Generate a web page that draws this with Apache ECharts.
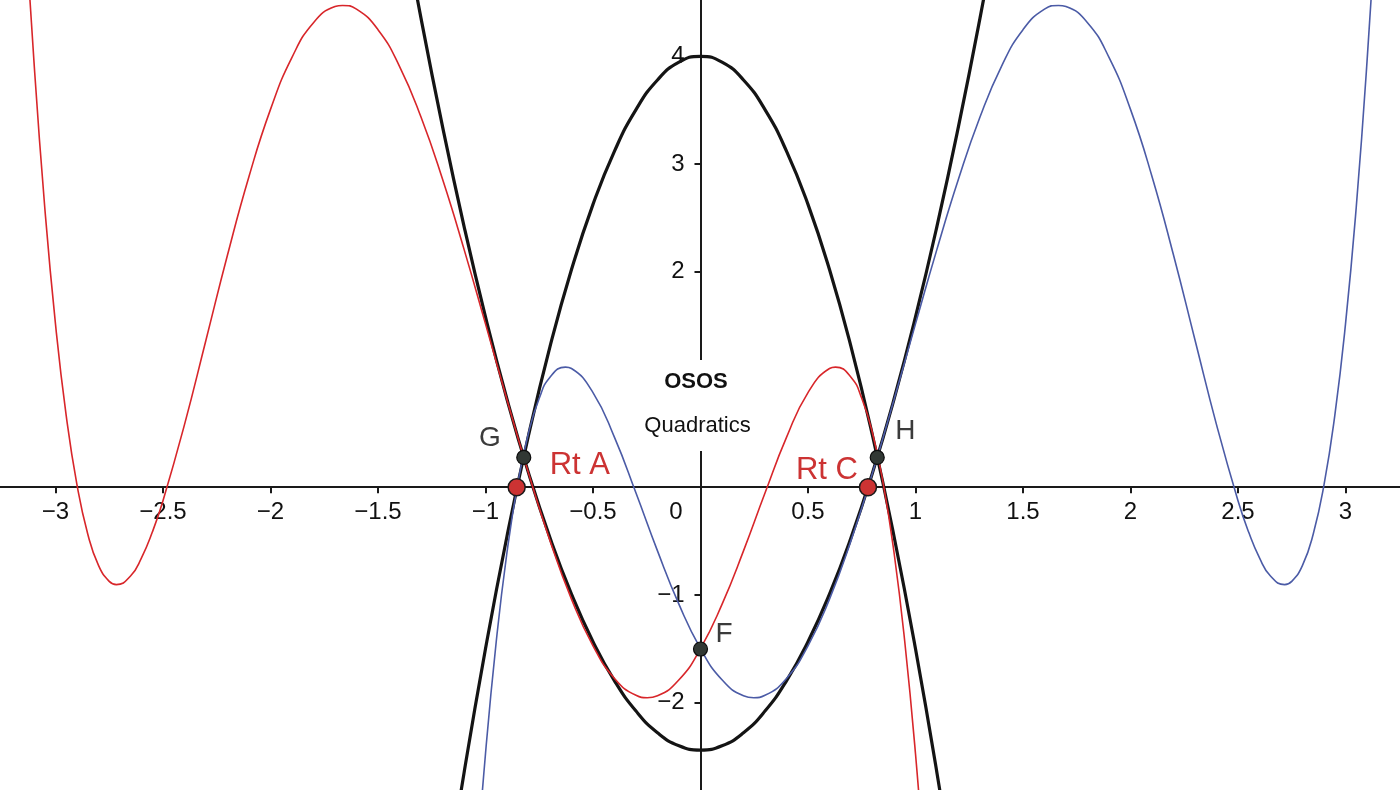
<!DOCTYPE html>
<html><head><meta charset="utf-8">
<script src="https://cdn.jsdelivr.net/npm/echarts@6/dist/echarts.min.js"></script>
<style>html,body{margin:0;padding:0;background:#fff}#c{width:1400px;height:790px}</style>
</head><body><div id="c"></div>
<script>
// ---- data ----
const redX = [-3.2,-3.15,-3.1,-3.05,-3.0,-2.95,-2.9,-2.85,-2.8,-2.75,-2.717,-2.65,-2.6,-2.55,-2.5,-2.4,-2.3,-2.2,-2.1,-2.0,-1.9,-1.8,-1.7,-1.665,-1.6,-1.5,-1.4,-1.3,-1.2,-1.1,-1.0,-0.9,-0.8,-0.7,-0.6,-0.5,-0.4,-0.3,-0.248,-0.2,-0.1,0,0.1,0.2,0.3,0.4,0.5,0.6,0.628,0.7,0.75,0.8,0.85,0.9,0.95,1.0,1.05,1.1];
const redY = [7.549,5.588,3.948,2.599,1.513,0.662,0.021,-0.434,-0.726,-0.874,-0.904,-0.822,-0.656,-0.419,-0.125,0.581,1.367,2.155,2.884,3.507,3.990,4.312,4.461,4.472,4.437,4.247,3.907,3.436,2.860,2.210,1.516,0.812,0.131,-0.496,-1.039,-1.472,-1.775,-1.932,-1.954,-1.936,-1.788,-1.498,-1.088,-0.591,-0.054,0.462,0.878,1.102,1.115,1.021,0.825,0.503,0.033,-0.604,-1.432,-2.474,-3.756,-5.305];
const blueX = [-1.1,-1.05,-1.0,-0.95,-0.9,-0.85,-0.8,-0.75,-0.7,-0.628,-0.6,-0.5,-0.4,-0.3,-0.2,-0.1,0,0.1,0.2,0.248,0.3,0.4,0.5,0.6,0.7,0.8,0.9,1.0,1.1,1.2,1.3,1.4,1.5,1.6,1.665,1.7,1.8,1.9,2.0,2.1,2.2,2.3,2.4,2.5,2.55,2.6,2.65,2.717,2.75,2.8,2.85,2.9,2.95,3.0,3.05,3.1,3.15,3.2];
const blueY = [-5.305,-3.756,-2.474,-1.432,-0.604,0.033,0.503,0.825,1.021,1.115,1.102,0.878,0.462,-0.054,-0.591,-1.088,-1.498,-1.788,-1.936,-1.954,-1.932,-1.775,-1.472,-1.039,-0.496,0.131,0.812,1.516,2.210,2.860,3.436,3.907,4.247,4.437,4.472,4.461,4.312,3.990,3.507,2.884,2.155,1.367,0.581,-0.125,-0.419,-0.656,-0.822,-0.904,-0.874,-0.726,-0.434,0.021,0.662,1.513,2.599,3.948,5.588,7.549];
const upX = [-1.4,-1.3,-1.2,-1.1,-1.0,-0.9,-0.8,-0.7,-0.6,-0.5,-0.4,-0.3,-0.2,-0.1,0.0,0.1,0.2,0.3,0.4,0.5,0.6,0.7,0.8,0.9,1.0,1.1,1.2,1.3,1.4];
const upY = [5.439,4.354,3.349,2.424,1.580,0.816,0.133,-0.470,-0.993,-1.435,-1.797,-2.078,-2.279,-2.400,-2.440,-2.400,-2.279,-2.078,-1.797,-1.435,-0.993,-0.470,0.133,0.816,1.580,2.424,3.349,4.354,5.439];
const downX = [-1.2,-1.1,-1.0,-0.9,-0.8,-0.7,-0.6,-0.5,-0.4,-0.3,-0.2,-0.1,0.0,0.1,0.2,0.3,0.4,0.5,0.6,0.7,0.8,0.9,1.0,1.1,1.2];
const downY = [-3.920,-2.655,-1.500,-0.455,0.480,1.305,2.020,2.625,3.120,3.505,3.780,3.945,4.000,3.945,3.780,3.505,3.120,2.625,2.020,1.305,0.480,-0.455,-1.500,-2.655,-3.920];
const pointNames = ['G','H','F'];
const pointX = [-0.822, 0.822, 0.0];
const pointY = [0.276, 0.276, -1.502];
const rootNames = ['Rt A','Rt C'];
const rootX = [-0.855, 0.779];
const rootY = [0, 0];
const xTicks = [-3,-2.5,-2,-1.5,-1,-0.5,0,0.5,1,1.5,2,2.5,3];
const yTicks = [-2,-1,1,2,3,4];
const yLabels = [-2,-1,2,3,4];
const titleText = 'OSOS';
const subtitleText = 'Quadratics';

// ---- view window (data units) ----
const X_MIN = -3.2581, X_MAX = 3.2535, Y_MIN = -2.8108, Y_MAX = 4.5224;

// ---- styles ----
const FONT = '"Liberation Sans", Arial, Helvetica, sans-serif';
const labelStyle = {
  'G':    {align:'right', offset:[-23,-19], fontSize:28},
  'H':    {align:'left',  offset:[18,-26], fontSize:28},
  'F':    {align:'left',  offset:[15,-15], fontSize:28},
  'Rt A': {align:'left',  offset:[33,-22], fontSize:31},
  'Rt C': {align:'right', offset:[-10,-17], fontSize:31}
};
const pairs = (xs, ys) => xs.map((x, i) => [x, ys[i]]);
const pts = (names, xs, ys) => names.map((n, i) => ({
  name: n, value: [xs[i], ys[i]],
  label: Object.assign({show:true, formatter:n, position:'inside', verticalAlign:'middle'}, labelStyle[n])
}));
const fmt = v => {
  const r = Math.round(v * 10) / 10;
  return r < 0 ? '\u2212' + Math.abs(r) : String(r);
};
const AX = {color: '#1a1a1a', width: 2};
const hiddenAxis = (type, gi) => ({type, gridIndex: gi, show: false, min: 0, max: 1});

const chart = echarts.init(document.getElementById('c'), null, {renderer:'canvas'});
// y pixel of data zero: grid top 0, height 790
const zeroY = 790 * Y_MAX / (Y_MAX - Y_MIN);
const zeroX = 1400 * (-X_MIN) / (X_MAX - X_MIN);
chart.setOption({
  animation: false,
  backgroundColor: '#ffffff',
  grid: [
    {left: 0, top: 0, right: 0, bottom: 0, containLabel: false, outerBoundsMode: 'none'},
    // label band for x: its bottom edge sits on y = 0
    {left: 0, top: 0, right: 0, height: zeroY, containLabel: false, outerBoundsMode: 'none'},
    // label band for y: its left edge sits on x = 0
    {left: zeroX, top: 0, right: 0, bottom: 0, containLabel: false, outerBoundsMode: 'none'}
  ],
  xAxis: [
    {type: 'value', gridIndex: 0, min: X_MIN, max: X_MAX,
     axisLine: {show: true, onZero: true, lineStyle: AX},
     axisTick: {show: true, length: 6, customValues: xTicks, lineStyle: AX},
     splitLine: {show: false}, axisLabel: {show: false}},
    {type: 'value', gridIndex: 1, min: X_MIN, max: X_MAX, position: 'bottom',
     axisLine: {show: false, onZero: false}, axisTick: {show: false}, splitLine: {show: false},
     axisLabel: {
       show: true, customValues: xTicks, showMinLabel: true, showMaxLabel: true, hideOverlap: false,
       margin: 13, fontSize: 24, color: '#111', fontFamily: FONT,
       formatter: v => Math.abs(v) < 1e-9 ? '{o|0}' : fmt(v),
       rich: {o: {fontSize: 24, color: '#111', fontFamily: FONT, padding: [0, 49, 0, 0]}}
     }},
    hiddenAxis('value', 2)
  ],
  yAxis: [
    {type: 'value', gridIndex: 0, min: Y_MIN, max: Y_MAX,
     axisLine: {show: true, onZero: true, lineStyle: AX},
     axisTick: {show: true, length: 6, customValues: yTicks, lineStyle: AX},
     splitLine: {show: false}, axisLabel: {show: false}},
    hiddenAxis('value', 1),
    {type: 'value', gridIndex: 2, min: Y_MIN, max: Y_MAX, position: 'left',
     axisLine: {show: false, onZero: false}, axisTick: {show: false}, splitLine: {show: false},
     axisLabel: {
       show: true, customValues: yLabels, showMinLabel: true, showMaxLabel: true, hideOverlap: false,
       margin: 16, fontSize: 24, color: '#111', fontFamily: FONT,
       formatter: v => fmt(v)
     }}
  ],
  series: [
    {type:'line', data: pairs(upX, upY), smooth: true, symbol:'none', z: 2,
     lineStyle:{color:'#141414', width:3.2}},
    {type:'line', data: pairs(downX, downY), smooth: true, symbol:'none', z: 2,
     lineStyle:{color:'#141414', width:3.2}},
    {type:'line', data: pairs(redX, redY), smooth: true, symbol:'none', z: 3,
     lineStyle:{color:'#d8262a', width:1.6}},
    {type:'line', data: pairs(blueX, blueY), smooth: true, symbol:'none', z: 3,
     lineStyle:{color:'#4b5ba6', width:1.6}},
    {type:'scatter', data: pts(pointNames, pointX, pointY), symbolSize: 14, z: 5,
     itemStyle:{color:'#313834', borderColor:'#0d0d0d', borderWidth:1.2, opacity:1},
     label:{color:'#3b3b3b', fontFamily: FONT}},
    {type:'scatter', data: pts(rootNames, rootX, rootY), symbolSize: 17, z: 5,
     itemStyle:{color:'#cc3333', borderColor:'#1a1a1a', borderWidth:1.5, opacity:1},
     label:{color:'#cc3333', fontFamily: FONT}}
  ],
  graphic: [
    {type:'rect', z: 50, shape:{x:640, y:360, width:118, height:91}, style:{fill:'#ffffff'}},
    {type:'text', z: 51, x: 696, y: 382, style:{text: titleText, align:'center', verticalAlign:'middle',
      font: 'bold 22px ' + FONT, fill:'#111'}},
    {type:'text', z: 51, x: 697.5, y: 426, style:{text: subtitleText, align:'center', verticalAlign:'middle',
      font: '22px ' + FONT, fill:'#111'}}
  ]
});
</script>
</body></html>
